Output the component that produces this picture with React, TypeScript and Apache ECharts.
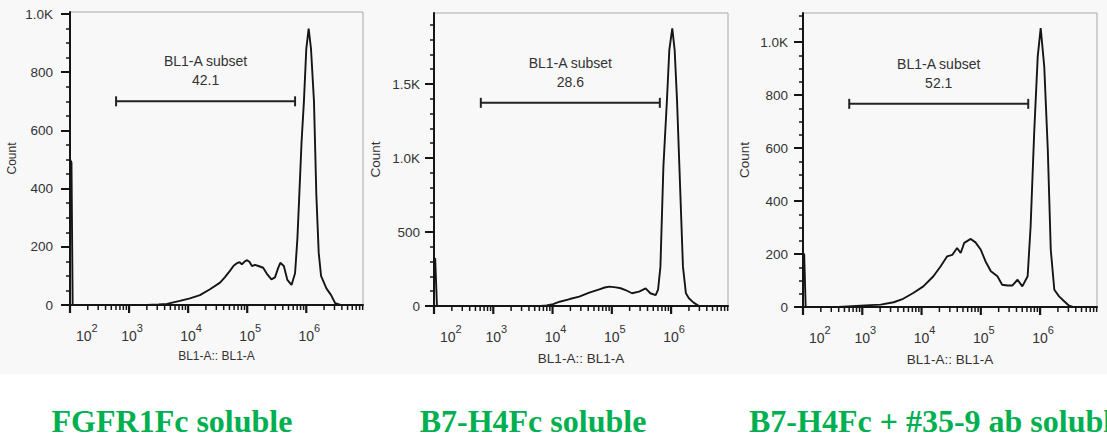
import React, { useEffect, useRef } from "react";
import * as echarts from "echarts";

// ---- data (x values are log10 of BL1-A intensity, y values are event counts) ----
const panelTitles = ["FGFR1Fc soluble", "B7-H4Fc soluble", "B7-H4Fc + #35-9 ab soluble"];
const xMajorExponents = [2, 3, 4, 5, 6];

const p1Log = [2.0, 2.025, 2.045, 3.3, 3.5, 3.64, 3.86, 4.03, 4.2, 4.37, 4.54, 4.62, 4.71, 4.77, 4.82, 4.87, 4.91, 4.96, 5.0, 5.04, 5.08, 5.13, 5.19, 5.27, 5.33, 5.41, 5.47, 5.52, 5.56, 5.62, 5.68, 5.75, 5.81, 5.85, 5.88, 5.92, 5.96, 6.0, 6.04, 6.08, 6.13, 6.17, 6.21, 6.25, 6.34, 6.42, 6.49, 6.58, 6.96];
const p1Count = [500, 490, 0, 0, 2, 4, 14, 23, 34, 54, 77, 95, 118, 135, 143, 147, 140, 150, 154, 148, 134, 138, 134, 128, 108, 88, 95, 125, 145, 134, 86, 69, 109, 230, 370, 560, 700, 880, 950, 880, 700, 380, 180, 100, 57, 34, 6, 0, 0];

const p2Log = [2.0, 2.02, 2.05, 3.8, 3.9, 4.01, 4.12, 4.29, 4.45, 4.62, 4.79, 4.88, 4.96, 5.07, 5.15, 5.23, 5.34, 5.46, 5.57, 5.65, 5.74, 5.78, 5.82, 5.87, 5.93, 5.97, 6.02, 6.06, 6.1, 6.14, 6.2, 6.25, 6.3, 6.38, 6.47, 6.96];
const p2Count = [320, 320, 0, 0, 4, 13, 29, 47, 63, 90, 113, 125, 131, 126, 120, 108, 86, 97, 119, 86, 74, 110, 266, 941, 1392, 1730, 1876, 1730, 1392, 941, 266, 86, 52, 23, 0, 0];

const p3Log = [2.0, 2.02, 2.045, 2.6, 2.97, 3.31, 3.53, 3.69, 3.86, 4.03, 4.2, 4.32, 4.43, 4.52, 4.6, 4.66, 4.72, 4.83, 4.91, 5.0, 5.08, 5.17, 5.28, 5.36, 5.45, 5.53, 5.62, 5.7, 5.79, 5.84, 5.9, 5.96, 6.01, 6.07, 6.13, 6.18, 6.24, 6.32, 6.41, 6.49, 6.55, 6.96];
const p3Count = [200, 200, 0, 0, 5, 9, 18, 31, 53, 78, 116, 153, 191, 197, 223, 204, 242, 257, 244, 216, 172, 135, 116, 84, 81, 81, 103, 78, 116, 304, 657, 946, 1053, 908, 594, 216, 65, 40, 21, 5, 0, 0];

const gateLow = [2.78, 2.79, 2.78];
const gateHigh = [5.81, 5.81, 5.8];
const gateCount = [700, 1373, 767];
const gatePct = ["42.1", "28.6", "52.1"];

const yMax = [1007, 1980, 1110];
const yMajorTicks = [
  [0, 200, 400, 600, 800, 1000],
  [0, 500, 1000, 1500],
  [0, 200, 400, 600, 800, 1000],
];
const yMinorStep = [50, 100, 50];
const yMinorTop = [1000, 1900, 1100];

const logs = [p1Log, p2Log, p3Log];
const counts = [p1Count, p2Count, p3Count];

// ---- layout ----
const grids = [
  { left: 70, top: 12, width: 293, height: 293 },
  { left: 434, top: 13, width: 294, height: 293 },
  { left: 803, top: 13, width: 294, height: 294 },
];
const yLabelMargin = [17, 14, 15];
const nameSize = [12, 13.5, 13.5];

const FONT = '"Liberation Sans", Arial, sans-serif';
const INK = "#151515";
const TXT = "#333";

function xMinorTicks(): number[] {
  const out: number[] = [];
  for (let d = 2; d <= 6; d++) {
    for (let k = 2; k <= 9; k++) {
      const v = d + Math.log10(k);
      if (v <= 6.96) out.push(v);
    }
  }
  return out;
}

function yMinorTicks(i: number): number[] {
  const out: number[] = [];
  for (let v = yMinorStep[i]; v <= yMinorTop[i]; v += yMinorStep[i]) {
    if (!yMajorTicks[i].includes(v)) out.push(v);
  }
  return out;
}

function buildOption() {
  const xAxis: any[] = [];
  const yAxis: any[] = [];
  const series: any[] = [];
  const minorX = xMinorTicks();
  const xTickData = [
    ...xMajorExponents.map((v) => [v, 0, 1]),
    ...minorX.map((v) => [v, 0, 0]),
  ];

  for (let i = 0; i < 3; i++) {
    xAxis.push({
      gridIndex: i,
      type: "value",
      min: 2,
      max: 6.96,
      position: "bottom",
      splitLine: { show: false },
      axisLine: { show: true, onZero: false, lineStyle: { color: INK, width: 2 } },
      axisTick: { show: false },
      axisLabel: {
        customValues: xMajorExponents,
        margin: 17,
        alignMinLabel: "left",
        formatter: (v: number) => `{sp| }{b|10}{s|${Math.round(v)}}`,
        rich: {
          sp: { width: 6, lineHeight: 21, fontSize: 10 },
          b: { fontSize: 14, lineHeight: 15, verticalAlign: "bottom", color: TXT, fontFamily: FONT },
          s: { fontSize: 11, lineHeight: 10, verticalAlign: "top", color: TXT, fontFamily: FONT },
        },
      },
      name: "BL1-A:: BL1-A",
      nameLocation: "middle",
      nameGap: 45,
      nameTextStyle: { fontSize: nameSize[i], color: TXT, fontFamily: FONT },
    });

    yAxis.push({
      gridIndex: i,
      type: "value",
      min: 0,
      max: yMax[i],
      position: "left",
      splitLine: { show: false },
      axisLine: { show: true, onZero: false, lineStyle: { color: INK, width: 2 } },
      axisTick: { show: true, customValues: yMajorTicks[i], length: 9, lineStyle: { color: INK, width: 2 } },
      axisLabel: {
        customValues: yMajorTicks[i],
        margin: yLabelMargin[i],
        fontSize: 13.5,
        color: TXT,
        fontFamily: FONT,
        formatter: (v: number) => (v >= 1000 ? (v / 1000).toFixed(1) + "K" : String(v)),
      },
      name: "Count",
      nameLocation: "middle",
      nameGap: 52,
      nameTextStyle: { fontSize: nameSize[i], color: TXT, fontFamily: FONT },
    });
    yAxis.push({
      gridIndex: i,
      type: "value",
      min: 0,
      max: yMax[i],
      position: "left",
      splitLine: { show: false },
      axisLine: { show: false, onZero: false },
      axisLabel: { show: false },
      axisTick: { show: true, customValues: yMinorTicks(i), length: 4, lineStyle: { color: INK, width: 1.5 } },
    });

    // x-axis tick marks (decade majors + log minors) drawn through the x scale
    series.push({
      type: "custom",
      xAxisIndex: i,
      yAxisIndex: 2 * i,
      clip: false,
      silent: true,
      data: xTickData,
      encode: { x: 0, y: 1 },
      renderItem: (params: any, api: any) => {
        const p = api.coord([api.value(0), 0]);
        const major = api.value(2) === 1;
        return {
          type: "line",
          shape: { x1: p[0], y1: p[1], x2: p[0], y2: p[1] + (major ? 8 : 5) },
          style: { stroke: INK, lineWidth: major ? 2.2 : 1.5 },
        };
      },
      z: 5,
    });

    series.push({
      type: "line",
      xAxisIndex: i,
      yAxisIndex: 2 * i,
      data: logs[i].map((x, j) => [x, counts[i][j]]),
      showSymbol: false,
      symbol: "none",
      smooth: false,
      lineStyle: { color: INK, width: 1.9 },
      z: 3,
    });

    const pct = gatePct[i];
    series.push({
      type: "custom",
      xAxisIndex: i,
      yAxisIndex: 2 * i,
      data: [[gateLow[i], gateHigh[i], gateCount[i]]],
      encode: { x: [0, 1], y: 2 },
      renderItem: (params: any, api: any) => {
        const a = api.coord([api.value(0), api.value(2)]);
        const b = api.coord([api.value(1), api.value(2)]);
        const cx = (a[0] + b[0]) / 2;
        const st = { stroke: "#222", lineWidth: 2 };
        return {
          type: "group",
          children: [
            { type: "line", shape: { x1: a[0], y1: a[1], x2: b[0], y2: b[1] }, style: st },
            { type: "line", shape: { x1: a[0], y1: a[1] - 5, x2: a[0], y2: a[1] + 5 }, style: st },
            { type: "line", shape: { x1: b[0], y1: b[1] - 5, x2: b[0], y2: b[1] + 5 }, style: st },
            {
              type: "text",
              style: { text: "BL1-A subset", x: cx, y: a[1] - 40, align: "center", verticalAlign: "middle", font: `14px ${FONT}`, fill: TXT },
            },
            {
              type: "text",
              style: { text: pct, x: cx, y: a[1] - 21, align: "center", verticalAlign: "middle", font: `14px ${FONT}`, fill: TXT },
            },
          ],
        };
      },
      z: 4,
    });
  }

  const titleFont = 'bold 32px "Liberation Serif", "Times New Roman", serif';
  return {
    animation: false,
    backgroundColor: "transparent",
    textStyle: { fontFamily: FONT },
    grid: grids.map((g) => ({ ...g, show: true, borderColor: "#a8a8a8", borderWidth: 1, backgroundColor: "transparent" })),
    xAxis,
    yAxis,
    series,
    graphic: [
      { type: "text", x: 172, y: 421, style: { text: panelTitles[0], font: titleFont, fill: "#00B050", align: "center", verticalAlign: "middle" } },
      { type: "text", x: 533, y: 421, style: { text: panelTitles[1], font: titleFont, fill: "#00B050", align: "center", verticalAlign: "middle" } },
      { type: "text", x: 749, y: 421, style: { text: panelTitles[2], font: titleFont, fill: "#00B050", align: "left", verticalAlign: "middle" } },
    ],
  };
}

export default function App() {
  const ref = useRef<HTMLDivElement>(null);
  useEffect(() => {
    if (!ref.current) return;
    const chart = echarts.init(ref.current, undefined, { renderer: "svg" });
    chart.setOption(buildOption() as any);
    return () => chart.dispose();
  }, []);
  return (
    <div
      ref={ref}
      style={{
        position: "fixed",
        left: 0,
        top: 0,
        width: 1107,
        height: 439,
        background: "linear-gradient(#f8f8f8 0px, #f8f8f8 374px, #ffffff 374px)",
      }}
    />
  );
}
